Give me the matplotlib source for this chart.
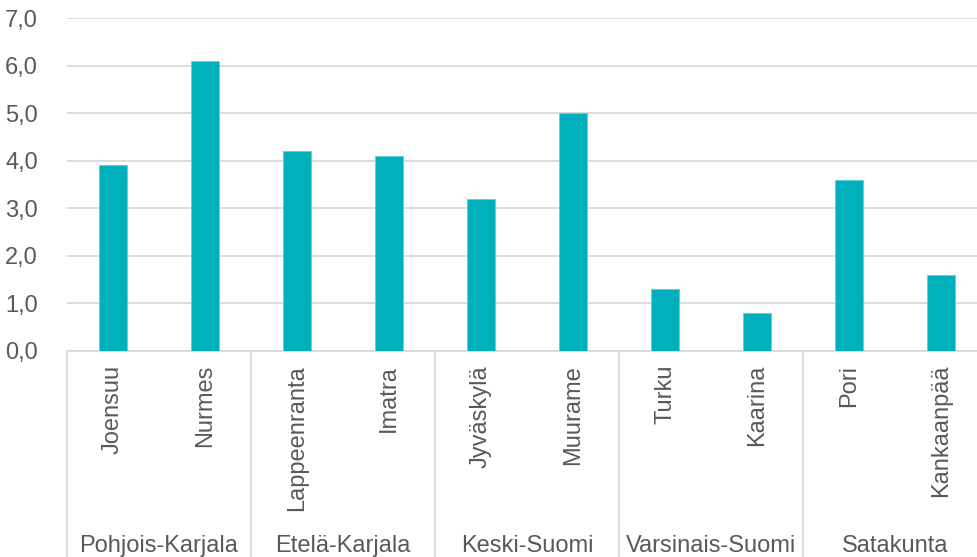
import matplotlib.pyplot as plt

# data
cities = ['Joensuu', 'Nurmes', 'Lappeenranta', 'Imatra', 'Jyväskylä',
          'Muurame', 'Turku', 'Kaarina', 'Pori', 'Kankaanpää']
values = [3.9, 6.1, 4.2, 4.1, 3.2, 5.0, 1.3, 0.8, 3.6, 1.6]
regions = ['Pohjois-Karjala', 'Etelä-Karjala', 'Keski-Suomi',
           'Varsinais-Suomi', 'Satakunta']
yticks = [0, 1, 2, 3, 4, 5, 6, 7]

bar_color = '#00B0BD'
text_color = '#595959'
line_color = '#D9D9D9'

plt.rcParams['font.family'] = ['Liberation Sans', 'DejaVu Sans']

fig = plt.figure(figsize=(9.77, 5.57), dpi=100)
ax = fig.add_axes([67 / 977, 206 / 557, 920 / 977, 333 / 557])

x = list(range(len(cities)))
ax.bar(x, values, width=0.315, color=bar_color, edgecolor='#5FD0D8',
       linewidth=0.6, zorder=3)

ax.set_xlim(-0.5, len(cities) - 0.5)
ax.set_ylim(0, 7)
ax.set_yticks(yticks)
ax.set_yticklabels([f'{v:.1f}'.replace('.', ',') for v in yticks],
                   fontsize=17, color=text_color)
ax.tick_params(axis='y', length=0, pad=21)
ax.yaxis.grid(True, color=line_color, linewidth=1.3, zorder=0)
for s in ['top', 'right', 'left']:
    ax.spines[s].set_visible(False)
ax.spines['bottom'].set_color(line_color)
ax.spines['bottom'].set_linewidth(1.3)
ax.set_xticks([])

# city labels, rotated
for i, c in enumerate(cities):
    ax.text(i, -0.042, c, rotation=90, ha='center', va='top',
            fontsize=17, color=text_color, transform=ax.get_xaxis_transform())

# region labels and separators
for g, r in enumerate(regions):
    ax.text(2 * g + 0.5, -0.585, r, ha='center', va='center',
            fontsize=17, color=text_color, transform=ax.get_xaxis_transform())
for g in range(len(regions) + 1):
    ax.plot([2 * g - 0.5, 2 * g - 0.5], [0, -0.65], color=line_color,
            linewidth=1.3, clip_on=False, transform=ax.get_xaxis_transform())

fig.savefig('out.png', dpi=100)
